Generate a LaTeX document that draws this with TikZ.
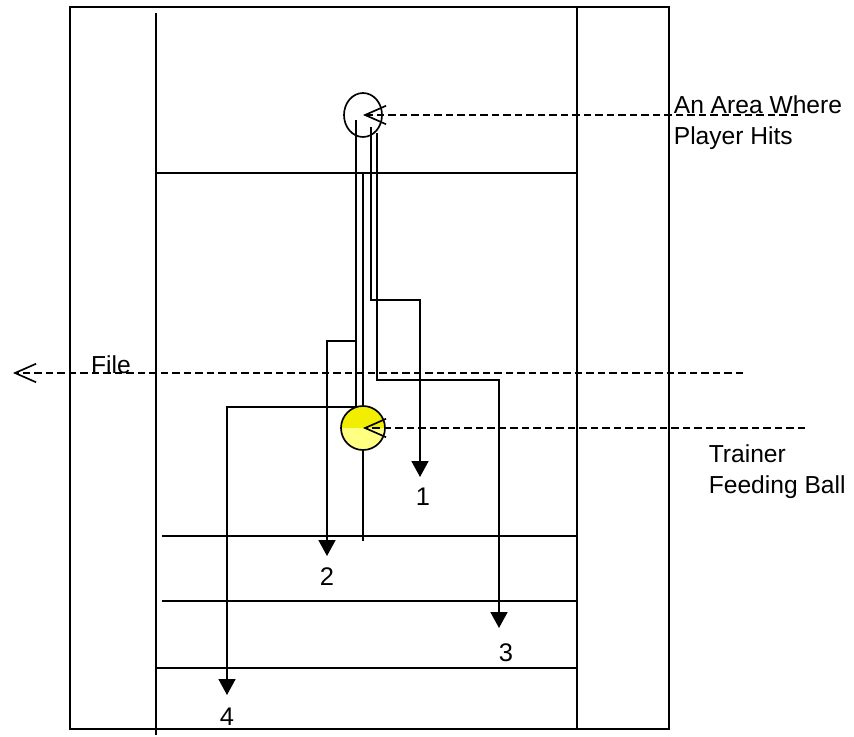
\documentclass[tikz,border=0pt]{standalone}
\usepackage{fontspec}
\setmainfont{Liberation Sans}
\usepackage{xcolor}
\usepackage{tikz}
\usetikzlibrary{arrows.meta,positioning,shapes.geometric}
\definecolor{ballyellow}{RGB}{242,238,0}
\definecolor{balllight}{RGB}{255,255,130}

\begin{document}
\begin{tikzpicture}[
    x=0.02cm, y=-0.02cm, line width=0.95pt,
    txt/.style={font=\fontsize{14}{17.5}\selectfont, align=left, inner sep=0pt},
    num/.style={font=\fontsize{14.5}{17}\selectfont, inner sep=0pt},
    shot/.style={-{Triangle[length=0.32cm, width=0.34cm]}},
    guide/.style={dash pattern=on 0.15cm off 0.08cm,
                  -{Straight Barb[length=0.42cm, width=0.37cm]}}
]
    \useasboundingbox (0,0) rectangle (854,736);

    % Court
    \draw (70,7) rectangle (669,729);
    \draw (156,13) -- (156,735);
    \draw (577,7) -- (577,729);
    \draw (156,173) -- (577,173);
    \draw (162,536) -- (577,536);
    \draw (162,601) -- (577,601);
    \draw (156,668) -- (577,668);
    \draw (363,173) -- (363,541);

    % Hit area
    \node[draw, ellipse, minimum width=0.76cm, minimum height=0.88cm, inner sep=0pt]
        (hit) at (363,115) {};

    % Start and end points of the shots
    \coordinate (s1) at (371,127);
    \coordinate (s2) at (356,120);
    \coordinate (s3) at (377,133);
    \coordinate (t1) at (420,477);
    \coordinate (t2) at (327,556);
    \coordinate (t3) at (499,628);
    \coordinate (t4) at (227,695);

    % Shots
    \draw[shot] (s1) -- (371,300) -| (t1);
    \draw[shot] (s2) -- (356,341) -| (t2);
    \draw[shot] (s3) -- (377,380) -| (t3);
    \draw[shot] (s2) -- (356,407) -| (t4);

    \node[num, below=0.2cm of t1, xshift=0.06cm] (n1) {1};
    \node[num, below=0.22cm of t2] (n2) {2};
    \node[num, below=0.3cm of t3, xshift=0.14cm] (n3) {3};
    \node[num, below=0.24cm of t4] (n4) {4};

    % Trainer
    \node[draw, circle, minimum size=0.88cm, inner sep=0pt, path picture={
            \fill[balllight] (path picture bounding box.south west)
                rectangle (path picture bounding box.east);
            \fill[ballyellow] (path picture bounding box.west)
                rectangle (path picture bounding box.north east);
        }] (trainer) at (363,428) {};

    % Labels
    \coordinate (hitfar) at (798,115);
    \draw[guide] (hitfar) -- (hit.center);
    \node[txt, anchor=north west] (hittext) at (673,95) {An Area Where\\Player Hits};

    \coordinate (filefar) at (743,373);
    \coordinate (fileend) at (13,373);
    \draw[guide] (filefar) -- (fileend);
    \node[txt, anchor=base] (file) at (111,373) {File};

    \coordinate (trainerfar) at (805,428);
    \draw[guide] (trainerfar) -- (trainer.center);
    \node[txt, anchor=north west] (trainertext) at (708,444) {Trainer\\Feeding Ball};
\end{tikzpicture}
\end{document}
